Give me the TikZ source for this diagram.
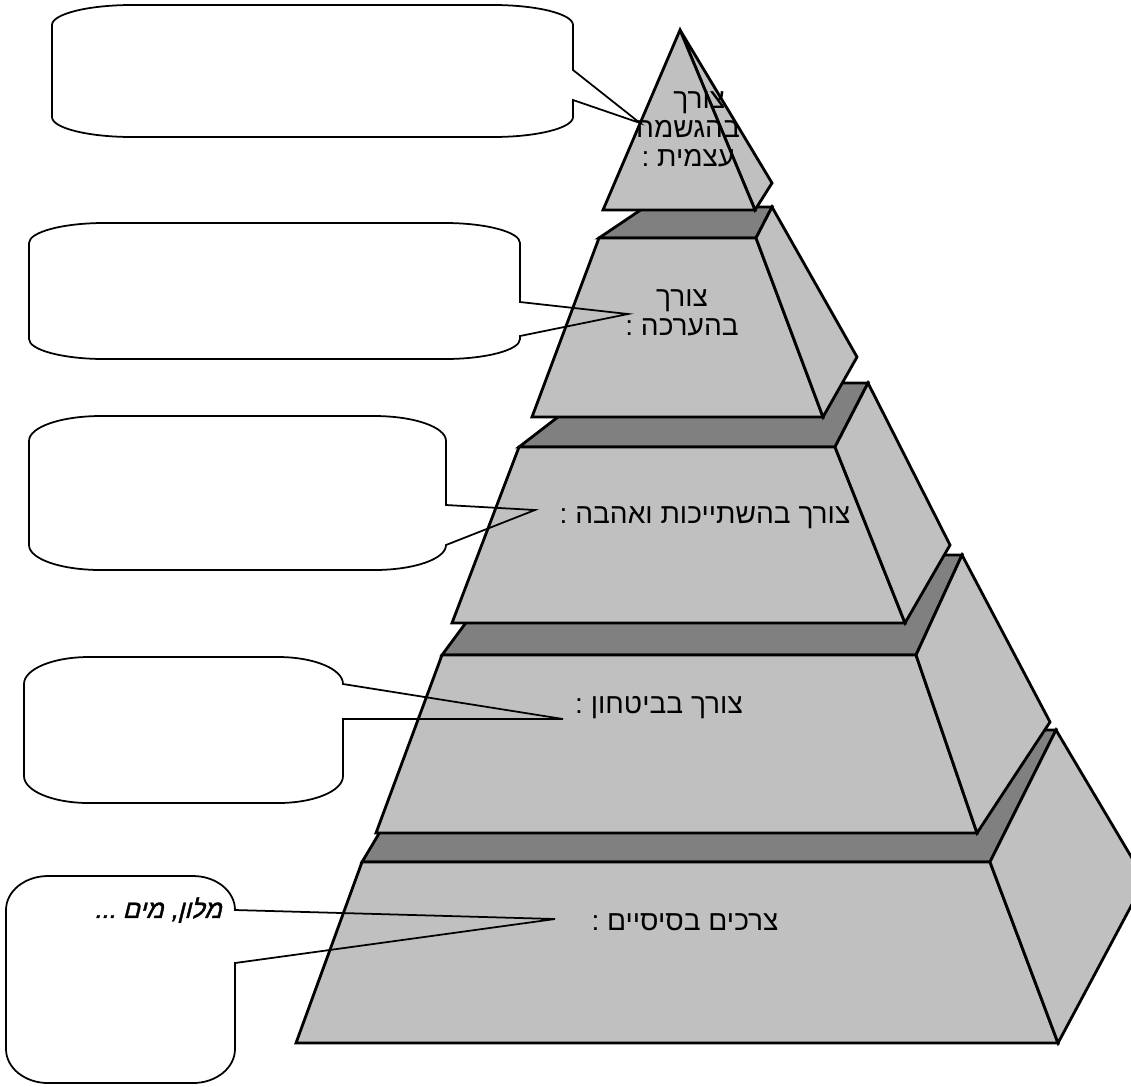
\documentclass[tikz,border=0pt]{standalone}
\usepackage{fontspec}
\newfontfamily\hebfont[Script=Hebrew]{Liberation Sans}
\newfontfamily\handfont[Script=Hebrew,FakeSlant=0.25,FakeBold=1.5]{Liberation Sans}
\TeXXeTstate=1
\definecolor{facegray}{HTML}{C0C0C0}
\definecolor{topgray}{HTML}{808080}
\begin{document}
\begin{tikzpicture}[x=0.02cm,y=-0.02cm]
      \tikzset{front/.style={draw, line width=1.6pt, fill=facegray, line join=miter},
               topface/.style={front, fill=topgray},
               bubble/.style={draw, line width=1pt, line join=miter},
               lbl/.style={font=\hebfont\fontsize{16}{16.5}\selectfont, align=center, inner sep=0pt}}
      \useasboundingbox (0,0) rectangle (1131,1086);
      \clip (0,0) rectangle (1131,1086);
%% Tiers
	%basic needs
      	\draw[topface] (362,862) -- (441,730) -- (1056,730) -- (990,862) -- cycle;
      	\draw[front] (362,862) -- (990,862) -- (1058,1043) -- (296,1043) -- cycle;
      	\draw[front] (1056,730) -- (1145,880) -- (1058,1043) -- (990,862) -- cycle;
	%safety
      	\draw[topface] (442,655) -- (516,555) -- (962,555) -- (916,655) -- cycle;
      	\draw[front] (442,655) -- (916,655) -- (977,833) -- (376,833) -- cycle;
      	\draw[front] (962,555) -- (1050,722) -- (977,833) -- (916,655) -- cycle;
	%belonging
      	\draw[topface] (519,447) -- (602,383) -- (868,383) -- (835,447) -- cycle;
      	\draw[front] (519,447) -- (835,447) -- (905,623) -- (452,623) -- cycle;
      	\draw[front] (868,383) -- (950,545) -- (905,623) -- (835,447) -- cycle;
	%esteem
      	\draw[topface] (599,238) -- (645,207) -- (772,207) -- (756,238) -- cycle;
      	\draw[front] (599,238) -- (756,238) -- (823,417) -- (532,417) -- cycle;
      	\draw[front] (772,207) -- (857,357) -- (823,417) -- (756,238) -- cycle;
	%self actualization
      	\draw[front] (680,30) -- (772,183) -- (755,210) -- cycle;
      	\draw[front] (680,30) -- (755,210) -- (603,210) -- cycle;
%% Labels
      	\node[lbl] (lblSelf) at (688,129) {\hspace*{0.8em}\beginR צורך\endR\\\beginR בהגשמה\endR\\\beginR עצמית :\endR};
      	\node[lbl] (lblEsteem) at (682,313) {\beginR צורך\endR\\\beginR בהערכה :\endR};
      	\node[lbl] (lblLove) at (705,518) {\beginR צורך בהשתייכות ואהבה :\endR};
      	\node[lbl] (lblSafety) at (659,708) {\beginR צורך בביטחון :\endR};
      	\node[lbl] (lblBasic) at (685,922) {\beginR צרכים בסיסיים :\endR};
%% Callouts
      	\coordinate (tipSelf) at (640,123);
      	\coordinate (tipEsteem) at (628,314);
      	\coordinate (tipLove) at (535,510);
      	\coordinate (tipSafety) at (563,719);
      	\coordinate (tipBasic) at (555,919);
      	\draw[bubble] (573,70) -- (573,25) .. controls (573,14) and (537,5) .. (493,5) -- (132,5) .. controls (88,5) and (52,14) .. (52,25) -- (52,117) .. controls (52,128) and (88,137) .. (132,137) -- (493,137) .. controls (537,137) and (573,128) .. (573,117) -- (573,100) -- (tipSelf) -- cycle;
      	\draw[bubble] (520,302) -- (520,243) .. controls (520,232) and (486,223) .. (445,223) -- (104,223) .. controls (63,223) and (29,232) .. (29,243) -- (29,339) .. controls (29,350) and (63,359) .. (104,359) -- (445,359) .. controls (486,359) and (520,350) .. (520,339) -- (520,336) -- (tipEsteem) -- cycle;
      	\draw[bubble] (446,505) -- (446,441) .. controls (446,427) and (414,416) .. (374,416) -- (101,416) .. controls (61,416) and (29,427) .. (29,441) -- (29,545) .. controls (29,559) and (61,570) .. (101,570) -- (374,570) .. controls (414,570) and (446,559) .. (446,545) -- (tipLove) -- cycle;
      	\draw[bubble] (343,719) -- (343,776) .. controls (343,791) and (314,803) .. (278,803) -- (89,803) .. controls (53,803) and (24,791) .. (24,776) -- (24,684) .. controls (24,669) and (53,657) .. (89,657) -- (278,657) .. controls (314,657) and (343,669) .. (343,684) -- (tipSafety) -- cycle;
      	\draw[bubble] (235,963) -- (235,1049) .. controls (235,1068) and (216,1083) .. (193,1083) -- (48,1083) .. controls (25,1083) and (6,1068) .. (6,1049) -- (6,910) .. controls (6,891) and (25,876) .. (48,876) -- (193,876) .. controls (216,876) and (235,891) .. (235,910) -- (tipBasic) -- cycle;
      	\node[font=\handfont\fontsize{14.5}{16}\selectfont, anchor=east, inner sep=0pt] (noteBasic) at (222,910) {\beginR מלון, מים ...\endR};

\end{tikzpicture}
\end{document}
